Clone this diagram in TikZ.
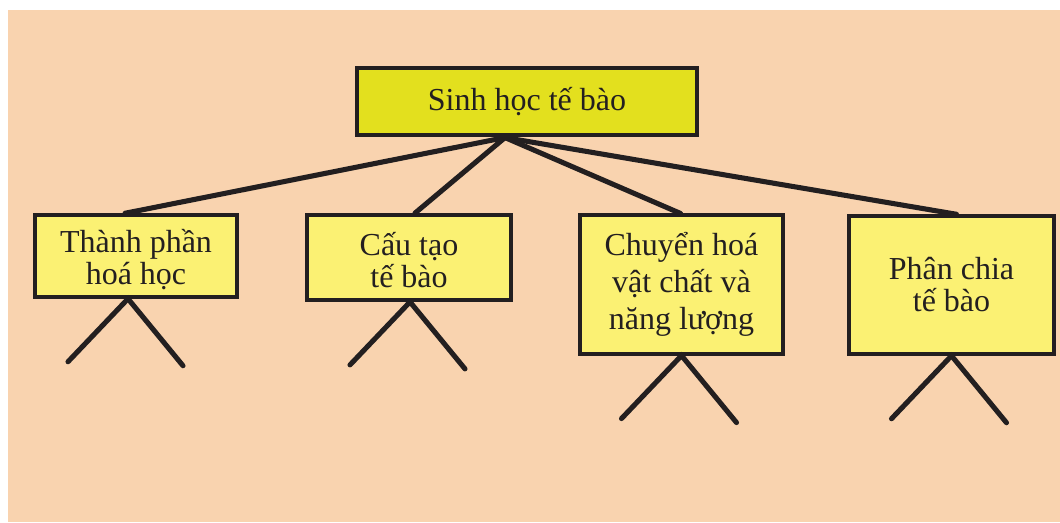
\documentclass[tikz,border=0pt]{standalone}
\usepackage{fontspec}
\setmainfont{Liberation Serif}
\usetikzlibrary{calc}
\definecolor{peach}{HTML}{F9D3AF}
\definecolor{topgreen}{HTML}{E3E01E}
\definecolor{boxyellow}{HTML}{FBF173}
\definecolor{ink}{HTML}{231F20}

\begin{document}
\begin{tikzpicture}[x=0.75pt,y=-0.75pt,
  box/.style={draw=ink, line width=2.6pt, fill=boxyellow, inner sep=0pt},
  boxtext/.style={align=center, inner sep=0pt, text=ink, font=\fontsize{24}{24}\selectfont},
  link/.style={draw=ink, line width=3.8pt, line cap=round}]
  \useasboundingbox (0,0) rectangle (1060,522);
  \fill[peach] (8,10) rectangle (1060,522);
  % root and the four branches
  \node[box, fill=topgreen, minimum width=255pt, minimum height=50pt, text=ink,
    font=\fontsize{24}{24}\selectfont] (root) at (527,101.5) {Sinh học tế bào};
  \node[box, minimum width=151.5pt, minimum height=61.5pt] (b1) at (136,256) {};
  \node[box, minimum width=153pt, minimum height=64pt] (b2) at (409,257.5) {};
  \node[box, minimum width=152pt, minimum height=104pt] (b3) at (681.5,284.5) {};
  \node[box, minimum width=154pt, minimum height=103.5pt] (b4) at (951.5,285) {};
  \node[boxtext] (b1-text) at ($(b1)+(0,4)$) {Thành phần\\hoá học};
  \node[boxtext] (b2-text) at ($(b2)+(0,3)$) {Cấu tạo\\tế bào};
  \node[boxtext, font=\fontsize{24}{28}\selectfont] (b3-text) at ($(b3)+(0,0)$) {Chuyển hoá\\vật chất và\\năng lượng};
  \node[boxtext] (b4-text) at ($(b4)+(0,0)$) {Phân chia\\tế bào};
  \coordinate (hub) at ($(root.south)+(-22,1)$);
  % links from the root
  \foreach \b/\dx in {b1/-11,b2/6,b3/-1,b4/5}
    \draw[link] (hub) -- ($(\b.north)+(\dx,0)$);
  % open legs under each box
  \foreach \b/\dx in {b1/-8,b2/1,b3/0,b4/0} {
    \coordinate (\b-foot) at ($(\b.south)+(\dx,0)$);
    \coordinate (\b-left) at ($(\b-foot)+(-60,63)$);
    \coordinate (\b-right) at ($(\b-foot)+(55,67)$);
    \draw[link] (\b-left) -- (\b-foot) -- (\b-right);
  }
\end{tikzpicture}
\end{document}
